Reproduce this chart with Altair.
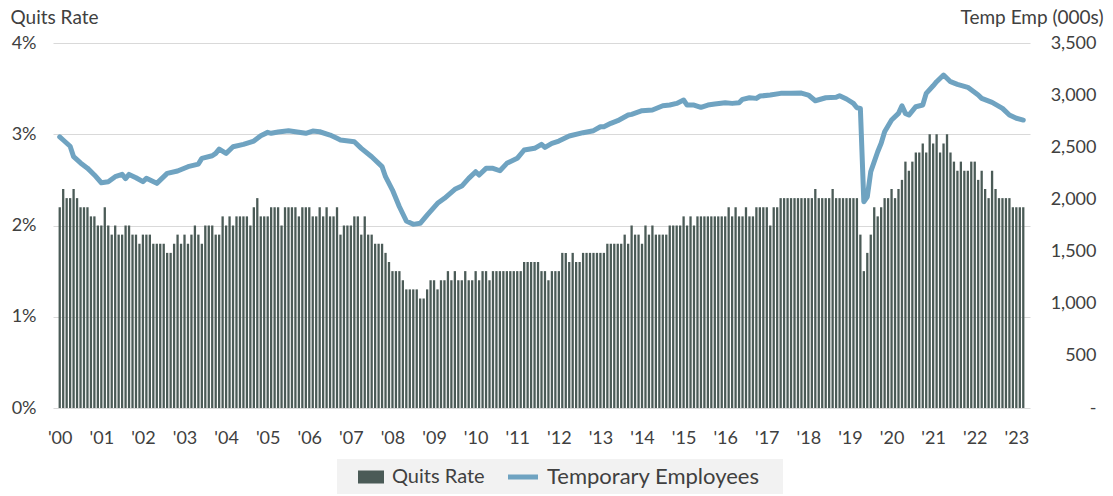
import altair as alt
import pandas as pd

# Quits rate (%), monthly, first bar = Dec 2000 (labelled '00)
quits_rate = [
    2.2, 2.4, 2.3, 2.3, 2.4, 2.3, 2.2, 2.2, 2.2, 2.1,
    2.1, 2.0, 2.0, 2.2, 2.0, 1.9, 2.0, 1.9, 1.9, 2.0,
    2.0, 1.9, 1.9, 1.8, 1.9, 1.9, 1.9, 1.8, 1.8, 1.8,
    1.8, 1.7, 1.7, 1.8, 1.9, 1.8, 1.9, 1.8, 1.9, 2.0,
    1.9, 1.8, 2.0, 2.0, 2.0, 1.9, 1.9, 2.1, 2.0, 2.1,
    2.0, 2.1, 2.1, 2.1, 2.1, 2.0, 2.2, 2.3, 2.1, 2.1,
    2.1, 2.2, 2.2, 2.2, 2.0, 2.2, 2.2, 2.2, 2.2, 2.1,
    2.2, 2.2, 2.2, 2.1, 2.1, 2.2, 2.1, 2.2, 2.1, 2.1,
    2.2, 1.9, 2.0, 2.0, 2.0, 2.1, 2.1, 1.9, 2.1, 1.9,
    1.9, 1.8, 1.8, 1.8, 1.7, 1.6, 1.5, 1.5, 1.5, 1.4,
    1.3, 1.3, 1.3, 1.3, 1.2, 1.2, 1.3, 1.4, 1.4, 1.3,
    1.4, 1.4, 1.5, 1.4, 1.5, 1.4, 1.4, 1.5, 1.4, 1.4,
    1.5, 1.4, 1.5, 1.5, 1.4, 1.5, 1.5, 1.5, 1.5, 1.5,
    1.5, 1.5, 1.5, 1.5, 1.6, 1.6, 1.6, 1.6, 1.6, 1.5,
    1.5, 1.4, 1.5, 1.5, 1.5, 1.7, 1.7, 1.6, 1.7, 1.6,
    1.6, 1.7, 1.7, 1.7, 1.7, 1.7, 1.7, 1.7, 1.8, 1.8,
    1.8, 1.8, 1.8, 1.9, 1.8, 2.0, 1.9, 1.9, 1.8, 2.0,
    1.9, 2.0, 1.9, 1.9, 1.9, 1.9, 2.0, 2.0, 2.0, 2.0,
    2.1, 2.0, 2.1, 2.0, 2.1, 2.1, 2.1, 2.1, 2.1, 2.1,
    2.1, 2.1, 2.1, 2.2, 2.1, 2.2, 2.1, 2.1, 2.2, 2.1,
    2.1, 2.2, 2.2, 2.2, 2.2, 2.0, 2.2, 2.2, 2.3, 2.3,
    2.3, 2.3, 2.3, 2.3, 2.3, 2.3, 2.3, 2.3, 2.4, 2.3,
    2.3, 2.3, 2.3, 2.4, 2.3, 2.3, 2.3, 2.3, 2.3, 2.3,
    2.3, 1.9, 1.5, 1.7, 1.9, 2.2, 2.1, 2.2, 2.3, 2.3,
    2.4, 2.3, 2.4, 2.5, 2.7, 2.6, 2.7, 2.8, 2.8, 2.9,
    2.8, 3.0, 2.9, 3.0, 2.8, 2.9, 3.0, 2.8, 2.7, 2.6,
    2.7, 2.6, 2.6, 2.7, 2.7, 2.5, 2.6, 2.4, 2.3, 2.6,
    2.4, 2.3, 2.3, 2.3, 2.3, 2.2, 2.2, 2.2, 2.2,
]

# Temporary employees (000s): month position (0 = first bar) and value
temp_month = [
    0, 1, 3, 4, 6, 8, 10, 12, 14, 16, 18, 19, 20, 22, 24, 25, 28, 31, 34, 37,
    40, 41, 44, 45, 46, 48, 50, 53, 56, 58, 60, 61, 63, 66, 68, 71, 73, 75, 78, 80,
    81, 85, 87, 90, 93, 94, 96, 98, 100, 102, 104, 106, 109, 111, 114, 116, 118, 120, 121, 123,
    125, 127, 129, 132, 134, 137, 139, 140, 142, 144, 147, 151, 154, 156, 157, 159, 161, 164, 165, 168,
    171, 174, 176, 178, 180, 181, 183, 185, 187, 189, 192, 194, 196, 197, 199, 201, 202, 205, 208, 211,
    214, 216, 218, 221, 224, 225, 227, 229, 230, 231, 232, 233, 234, 236, 237, 238, 240, 242, 243, 244,
    245, 247, 249, 250, 252, 253, 255, 257, 259, 262, 265, 266, 269, 272, 274, 276, 278,
]
temp_emp = [
    2600, 2570, 2510, 2410, 2350, 2300, 2235, 2160, 2170, 2218, 2240, 2200, 2240, 2208, 2170, 2202, 2154, 2250, 2272, 2314,
    2339, 2394, 2419, 2442, 2483, 2442, 2505, 2528, 2560, 2611, 2643, 2634, 2646, 2659, 2649, 2634, 2656, 2649, 2617, 2586,
    2570, 2553, 2490, 2409, 2314, 2218, 2090, 1930, 1793, 1761, 1771, 1850, 1963, 2011, 2097, 2128, 2202, 2266, 2234, 2298,
    2298, 2275, 2346, 2394, 2474, 2490, 2528, 2499, 2538, 2560, 2608, 2640, 2659, 2697, 2697, 2730, 2755, 2809, 2816, 2851,
    2857, 2898, 2905, 2921, 2953, 2905, 2905, 2883, 2905, 2915, 2927, 2921, 2927, 2960, 2975, 2969, 2991, 3001, 3017, 3017,
    3020, 3001, 2946, 2975, 2979, 2994, 2963, 2921, 2879, 2873, 1978, 2026, 2266, 2457, 2538, 2649, 2761, 2825, 2898, 2825,
    2809, 2889, 2905, 3017, 3090, 3129, 3193, 3129, 3103, 3075, 3001, 2969, 2931, 2873, 2809, 2778, 2761,
]

year_ticks = list(range(0, 277, 12))
left_ticks = [0, 1, 2, 3, 4]
right_ticks = [0, 500, 1000, 1500, 2000, 2500, 3000, 3500]
bar_name = "Quits Rate"
line_name = "Temporary Employees"

FONT = "Lato"
TEXT = "#404040"
BAR = "#4b5b57"
LINE = "#6fa3c1"
GRID = "#d9d9d9"
NB = "\u00a0"
BLANK = "\u2800"

bars_df = pd.DataFrame({"m": list(range(len(quits_rate))), "q": quits_rate, "series": bar_name})
line_df = pd.DataFrame({"m": temp_month, "t": temp_emp, "series": line_name})

x_scale = alt.Scale(domain=[-0.5, len(quits_rate) - 0.5], nice=False, zero=False)
x_axis = alt.Axis(
    values=year_ticks,
    labelExpr="\"'\" + (datum.value < 120 ? '0' : '') + (datum.value / 12)",
    grid=False, domain=False, ticks=False, title=None,
    labelFont=FONT, labelFontSize=18, labelColor=TEXT,
    labelPadding=30, labelBaseline="middle", labelAngle=0,
    labelFlush=False, labelOverlap=False,
)

legend_common = dict(
    orient="none", legendY=416, direction="horizontal", title=None,
    fillColor="#f2f2f2", symbolSize=100, labelLimit=400,
    labelFont=FONT, labelColor=TEXT,
)
bar_legend = alt.Legend(
    legendX=284, padding=8, labelFontSize=20, zindex=2,
    symbolType="M0.6,-1.3H5.8V1.3H0.6Z", symbolStrokeWidth=0,
    labelOffset=27, **legend_common,
)
line_legend = alt.Legend(
    legendX=367, padding=7, labelFontSize=22, zindex=1,
    symbolType="M14,0H20", symbolStrokeWidth=5, symbolFillColor="transparent",
    labelOffset=98, labelExpr="datum.label + '" + BLANK + "'", **legend_common,
)

bars = alt.Chart(bars_df).mark_bar(size=2.3).encode(
    x=alt.X("m:Q", scale=x_scale, axis=x_axis),
    y=alt.Y(
        "q:Q",
        scale=alt.Scale(domain=[0, 4], nice=False),
        axis=alt.Axis(
            orient="left", values=left_ticks, labelExpr="datum.value + '%'",
            grid=True, gridColor=GRID, gridWidth=1, domain=False, ticks=False,
            labelFont=FONT, labelFontSize=18, labelColor=TEXT, labelPadding=17,
            title="Quits Rate", titleAngle=0, titleX=-43, titleY=-20,
            titleAlign="left", titleBaseline="alphabetic",
            titleFont=FONT, titleFontSize=19, titleFontWeight="normal", titleColor=TEXT,
        ),
    ),
    fill=alt.Fill("series:N", scale=alt.Scale(domain=[bar_name], range=[BAR]), legend=bar_legend),
)

line = alt.Chart(line_df).mark_line(strokeWidth=5, strokeJoin="round", strokeCap="round").encode(
    x=alt.X("m:Q", scale=x_scale, axis=x_axis),
    y=alt.Y(
        "t:Q",
        scale=alt.Scale(domain=[0, 3500], nice=False),
        axis=alt.Axis(
            orient="right", values=right_ticks,
            labelExpr="datum.value == 0 ? '-" + NB * 6 + "' : format(datum.value, ',')",
            grid=False, domain=False, ticks=False,
            labelFont=FONT, labelFontSize=18, labelColor=TEXT,
            labelAlign="right", labelPadding=66,
            title="Temp Emp (000s)", titleAngle=0, titleX=73, titleY=-20,
            titleAlign="right", titleBaseline="alphabetic",
            titleFont=FONT, titleFontSize=19, titleFontWeight="normal", titleColor=TEXT,
        ),
    ),
    stroke=alt.Stroke("series:N", scale=alt.Scale(domain=[line_name], range=[LINE]), legend=line_legend),
)

chart = alt.layer(bars, line).resolve_scale(y="independent").properties(
    width=977, height=365,
    autosize=alt.AutoSizeParams(type="none"),
    padding={"left": 45, "top": 35, "right": 75, "bottom": 86},
).configure_view(stroke=None)

chart.save("out.html", embed_options={"renderer": "svg", "actions": False})
